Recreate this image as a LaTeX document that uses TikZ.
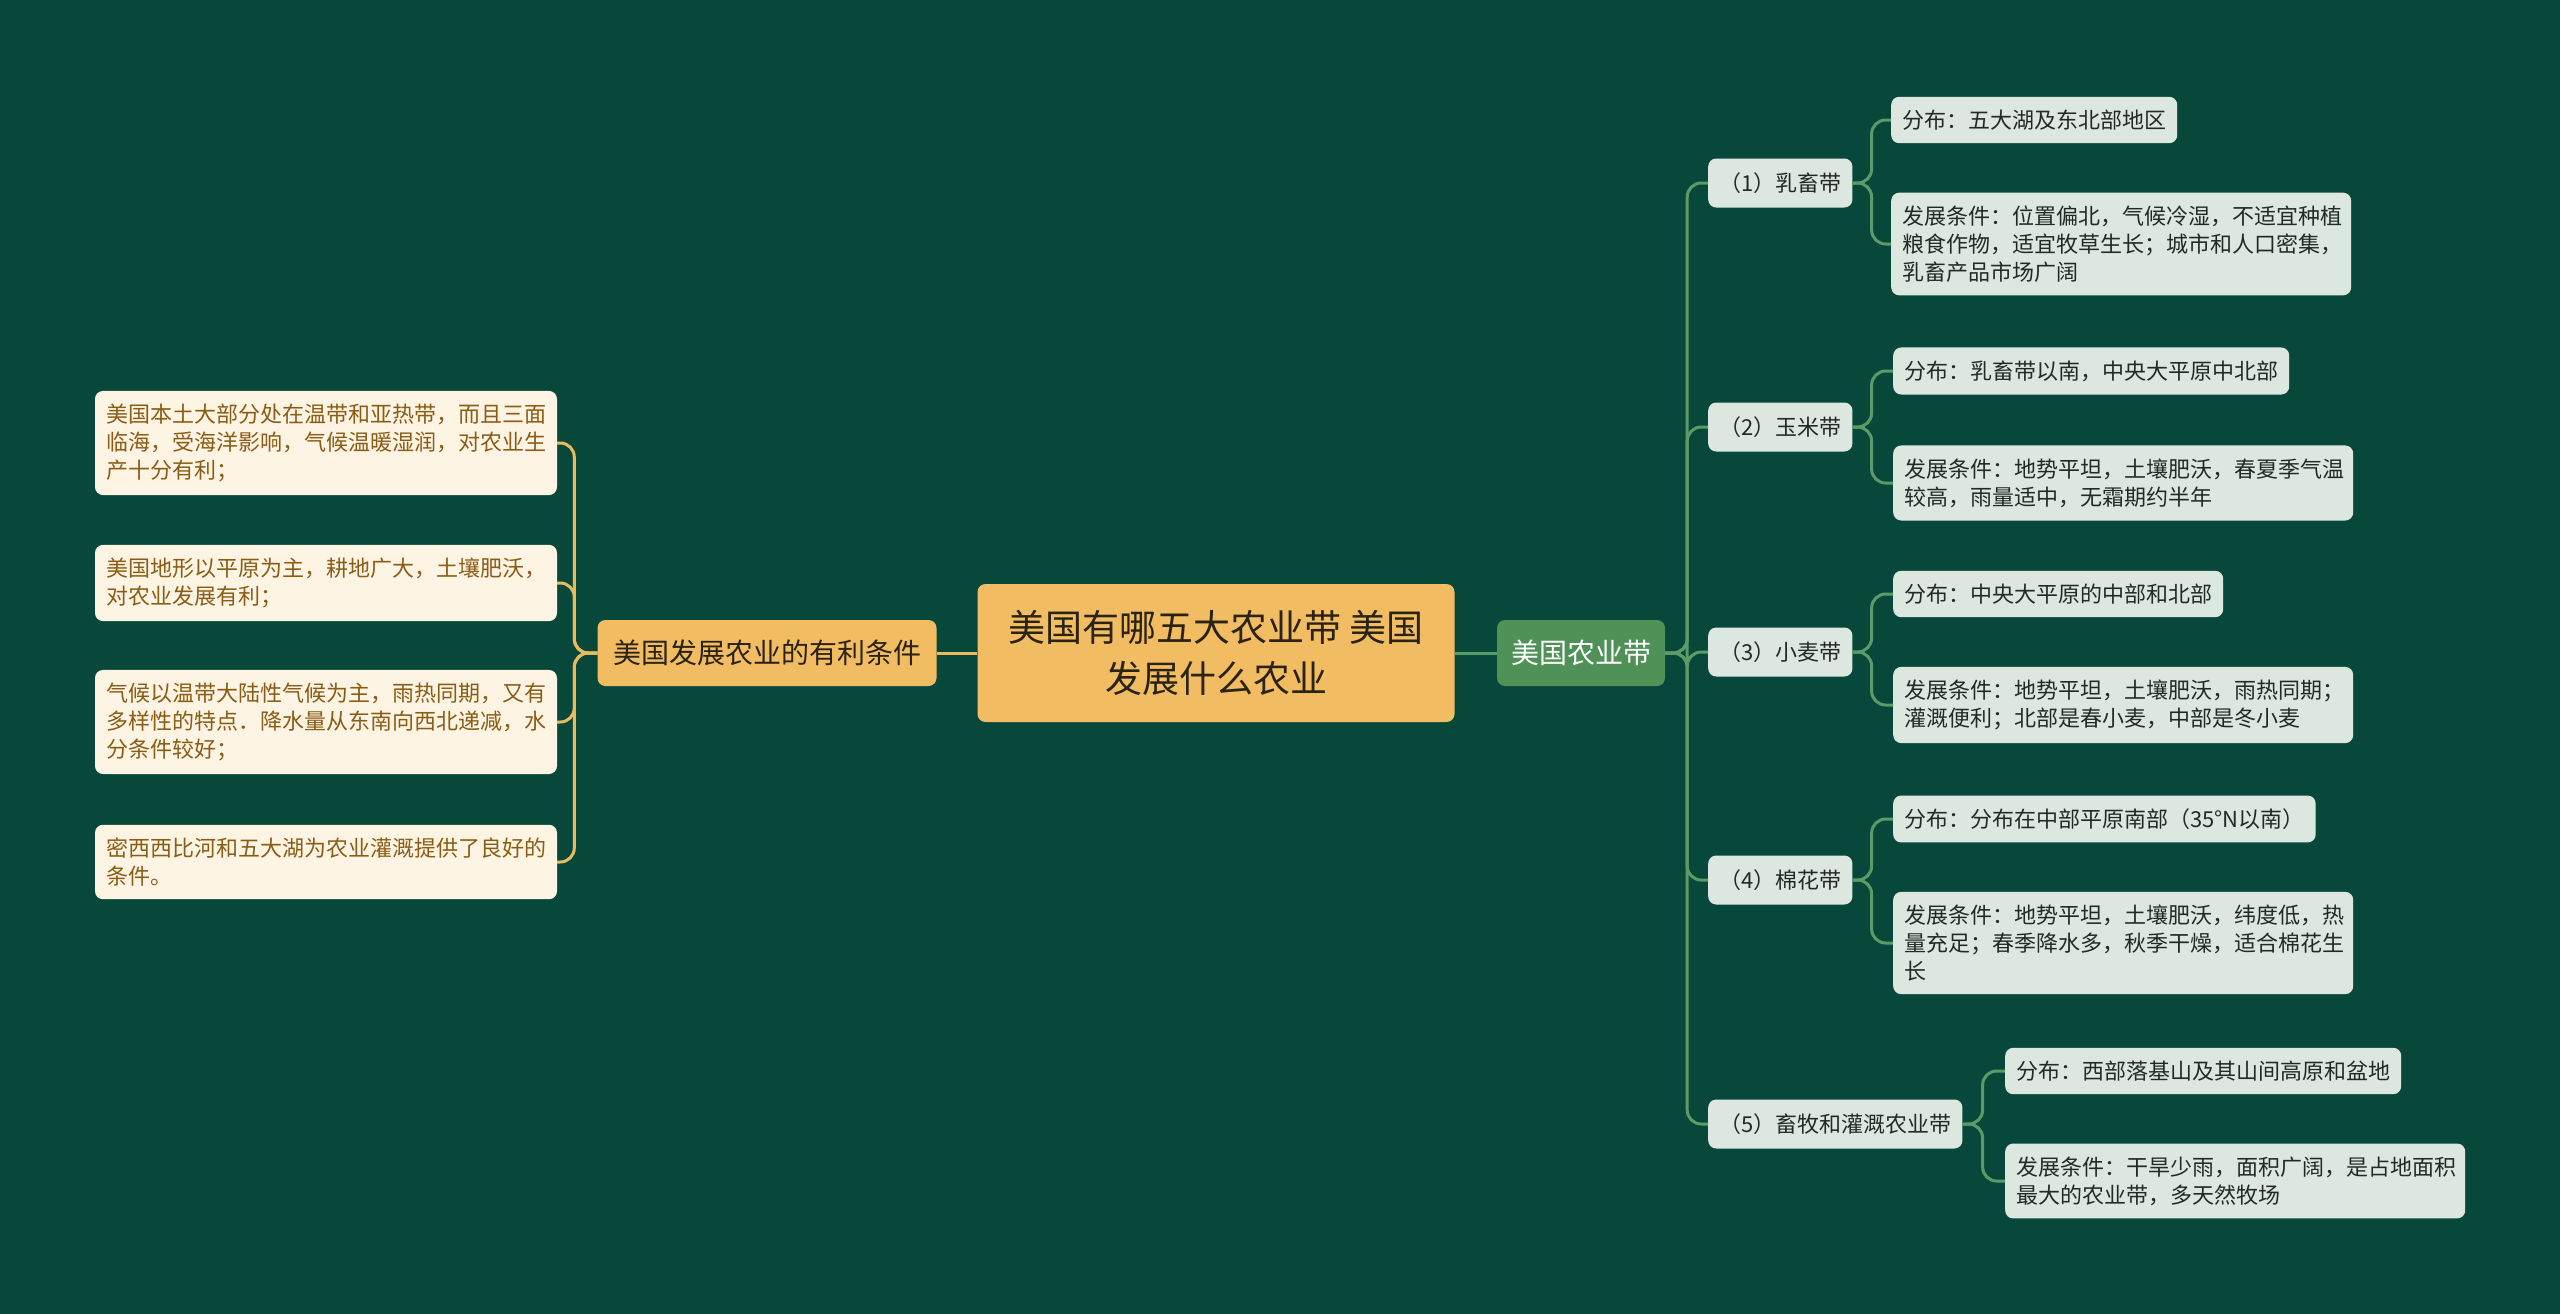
\documentclass[tikz,border=0pt]{standalone}
\usepackage{fontspec}
\setmainfont{Noto Sans CJK SC}
\usetikzlibrary{positioning}
\definecolor{bg}{HTML}{08483A}
\definecolor{gold}{HTML}{F1BC62}
\definecolor{cream}{HTML}{FDF4E4}
\definecolor{brown}{HTML}{8B5C14}
\definecolor{ink}{HTML}{2A2312}
\definecolor{leafg}{HTML}{DCE8DF}
\definecolor{darkg}{HTML}{1F2B24}
\definecolor{midg}{HTML}{4F9157}
\definecolor{wire}{HTML}{5B9B67}
\definecolor{ywire}{HTML}{E9BB5B}

\begin{document}
\begin{tikzpicture}[x=1pt,y={(0,-1pt)},
  fact/.style={fill=cream,text=brown,rounded corners=8pt,text width=440pt,align=left,inner xsep=11pt,inner ysep=13pt,font=\fontsize{22}{28}\selectfont},
  belt/.style={fill=leafg,text=darkg,rounded corners=8pt,anchor=west,minimum height=49pt,inner xsep=11pt,font=\fontsize{22}{28}\selectfont},
  info/.style={fill=leafg,text=darkg,rounded corners=8pt,anchor=west,align=left,inner xsep=11pt,inner ysep=13pt,font=\fontsize{22}{28}\selectfont},
  yline/.style={ywire,line width=3pt,rounded corners=14pt},
  gline/.style={wire,line width=3pt,rounded corners=14pt}]
  \useasboundingbox (0,0) rectangle (2560,1314);
  \fill[bg] (0,0) rectangle (2560,1314);
  % centre and the two main branches
  \node[fill=gold,text=ink,rounded corners=8pt,minimum width=477pt,minimum height=138pt,align=center,font=\fontsize{37}{51}\selectfont] (root) at (1216,653){美国有哪五大农业带 美国\\发展什么农业};
  \node[fill=gold,text=ink,rounded corners=8pt,minimum width=339pt,minimum height=66pt,font=\fontsize{28}{34}\selectfont] (cond) at (767,653){美国发展农业的有利条件};
  \node[fill=midg,text=white,rounded corners=8pt,minimum width=168pt,minimum height=66pt,font=\fontsize{28}{34}\selectfont] (zone) at (1581,653){美国农业带};
  % left side
  \node[fact] (l1) at (326,443){美国本土大部分处在温带和亚热带，而且三面\\临海，受海洋影响，气候温暖湿润，对农业生\\产十分有利；};
  \node[fact] (l2) at (326,583){美国地形以平原为主，耕地广大，土壤肥沃，\\对农业发展有利；};
  \node[fact] (l3) at (326,722){气候以温带大陆性气候为主，雨热同期，又有\\多样性的特点．降水量从东南向西北递减，水\\分条件较好；};
  \node[fact] (l4) at (326,862){密西西比河和五大湖为农业灌溉提供了良好的\\条件。};
  % right side, the five belts
  \node[belt] (b1) at (1708,183){（1）乳畜带};
  \node[belt] (b2) at (1708,427){（2）玉米带};
  \node[belt] (b3) at (1708,652){（3）小麦带};
  \node[belt] (b4) at (1708,880){（4）棉花带};
  \node[belt] (b5) at (1708,1124){（5）畜牧和灌溉农业带};
  \node[info] (b1a) at (1891,120){分布：五大湖及东北部地区};
  \node[info,text width=438pt] (b1b) at (1891,244){发展条件：位置偏北，气候冷湿，不适宜种植\\粮食作物，适宜牧草生长；城市和人口密集，\\乳畜产品市场广阔};
  \node[info] (b2a) at (1893,371){分布：乳畜带以南，中央大平原中北部};
  \node[info,text width=438pt] (b2b) at (1893,483){发展条件：地势平坦，土壤肥沃，春夏季气温\\较高，雨量适中，无霜期约半年};
  \node[info] (b3a) at (1893,594){分布：中央大平原的中部和北部};
  \node[info,text width=438pt] (b3b) at (1893,705){发展条件：地势平坦，土壤肥沃，雨热同期；\\灌溉便利；北部是春小麦，中部是冬小麦};
  \node[info] (b4a) at (1893,819){分布：分布在中部平原南部（35°N以南）};
  \node[info,text width=438pt] (b4b) at (1893,943){发展条件：地势平坦，土壤肥沃，纬度低，热\\量充足；春季降水多，秋季干燥，适合棉花生\\长};
  \node[info] (b5a) at (2005,1071){分布：西部落基山及其山间高原和盆地};
  \node[info,text width=438pt] (b5b) at (2005,1181){发展条件：干旱少雨，面积广阔，是占地面积\\最大的农业带，多天然牧场};
  % connectors
  \draw[yline] (root.west) -- (cond.east);
  \draw[gline] (root.east) -- (zone.west);
  \foreach \n in {l1,l2,l3,l4}
    \draw[yline] (cond.west) -- ++(-23,0) |- (\n.east);
  \foreach \n in {b1,b2,b3,b4,b5}
    \draw[gline] (zone.east) -- ++(22,0) |- (\n.west);
  \foreach \n in {b1,b2,b3,b4}{
    \draw[gline] (\n.east) -- ++(19,0) |- (\n a.west);
    \draw[gline] (\n.east) -- ++(19,0) |- (\n b.west);
  }
  \draw[gline] (b5.east) -- ++(20,0) |- (b5a.west);
  \draw[gline] (b5.east) -- ++(20,0) |- (b5b.west);
\end{tikzpicture}
\end{document}
